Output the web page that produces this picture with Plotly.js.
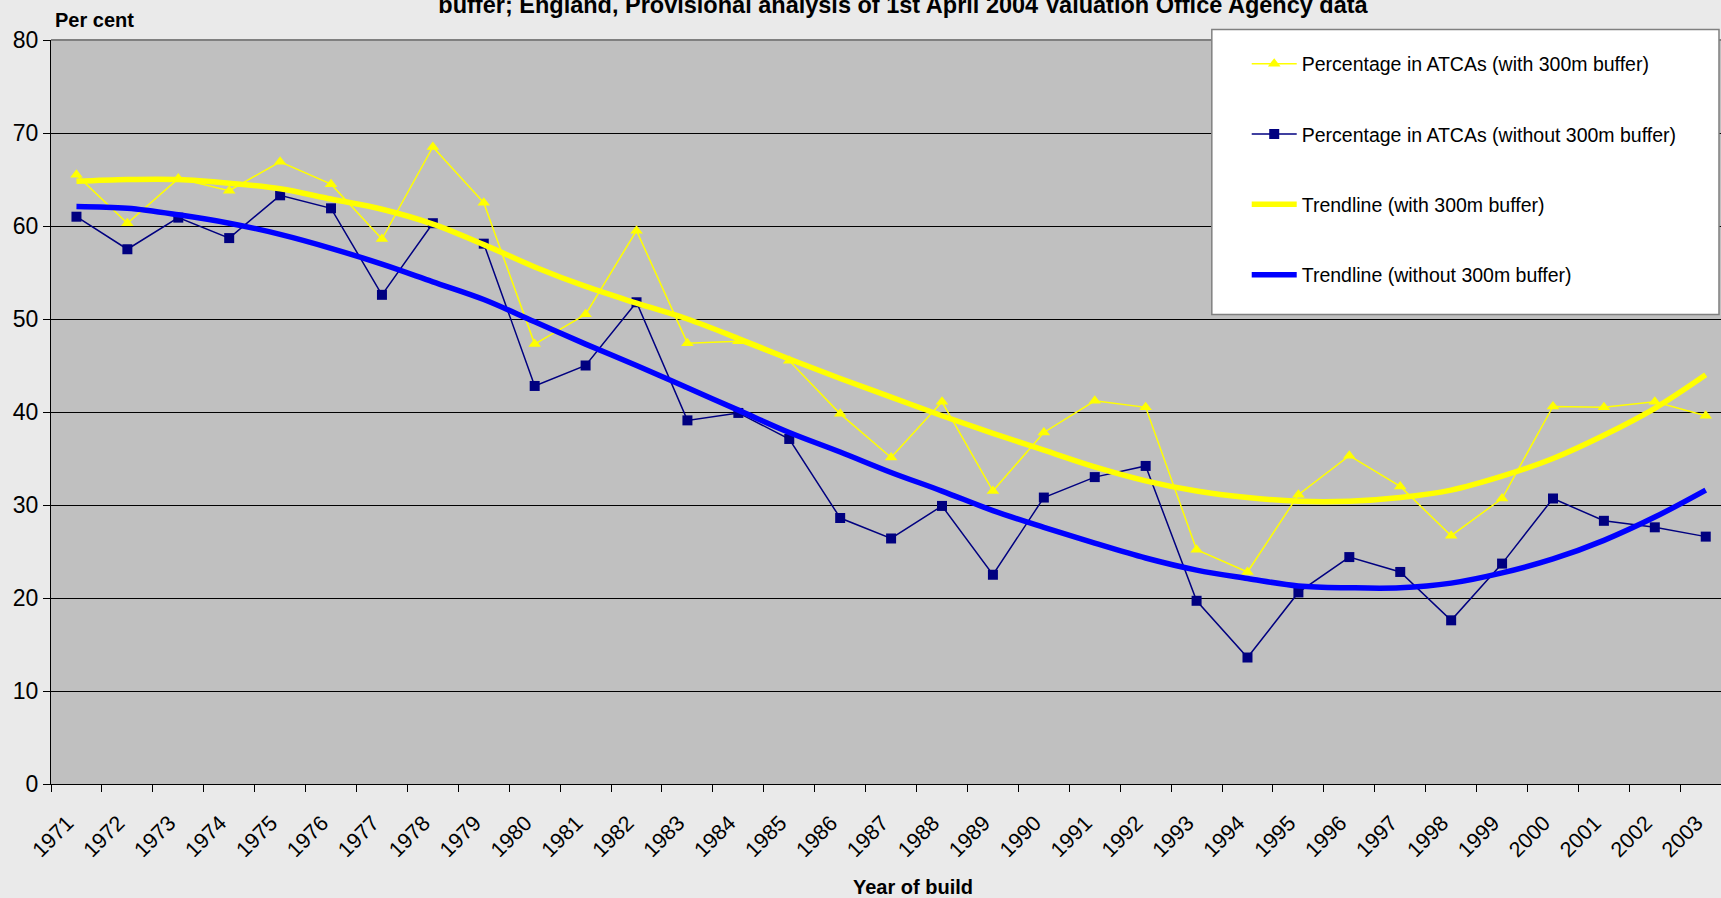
<!DOCTYPE html>
<html>
<head>
<meta charset="utf-8">
<script src="https://cdn.plot.ly/plotly-3.0.1.min.js"></script>
<style>
  html, body { margin: 0; padding: 0; background: #EAEAEA; }
  #chart { width: 1721px; height: 898px; }
</style>
</head>
<body>
<div id="chart"></div>
<script>
// ---- Data ----
const years = ['1971','1972','1973','1974','1975','1976','1977','1978','1979','1980',
               '1981','1982','1983','1984','1985','1986','1987','1988','1989','1990',
               '1991','1992','1993','1994','1995','1996','1997','1998','1999','2000',
               '2001','2002','2003'];

const pctWithBuffer = [65.5, 60.3, 65.1, 63.8, 66.9, 64.5, 58.6, 68.5, 62.5, 47.3,
                       50.5, 59.5, 47.4, 47.6, 45.5, 39.8, 35.1, 41.1, 31.5, 37.8,
                       41.2, 40.5, 25.2, 22.8, 31.1, 35.3, 32.0, 26.7, 30.7, 40.6,
                       40.5, 41.1, 39.6];

const pctWithoutBuffer = [61.0, 57.5, 60.9, 58.7, 63.3, 61.9, 52.6, 60.3, 58.1, 42.8,
                          45.0, 51.8, 39.1, 39.9, 37.1, 28.6, 26.4, 29.9, 22.5, 30.8,
                          33.0, 34.2, 19.7, 13.6, 20.6, 24.4, 22.8, 17.6, 23.7, 30.7,
                          28.3, 27.6, 26.6];

const trendWithBuffer = [64.8, 65.0, 65.0, 64.6, 64.0, 62.9, 61.8, 60.2, 58.0, 55.6,
                         53.5, 51.7, 50.0, 47.9, 45.7, 43.6, 41.6, 39.6, 37.7, 35.9,
                         34.1, 32.6, 31.5, 30.8, 30.4, 30.4, 30.8, 31.6, 33.1, 35.0,
                         37.5, 40.4, 44.0];

const trendWithoutBuffer = [62.1, 61.9, 61.2, 60.3, 59.1, 57.6, 55.9, 54.0, 52.1, 49.7,
                            47.3, 45.0, 42.6, 40.2, 37.8, 35.7, 33.5, 31.5, 29.4, 27.6,
                            25.9, 24.3, 23.0, 22.1, 21.3, 21.1, 21.1, 21.6, 22.7, 24.2,
                            26.2, 28.7, 31.6];

const seriesNames = ['Percentage in ATCAs (with 300m buffer)',
                     'Percentage in ATCAs (without 300m buffer)',
                     'Trendline (with 300m buffer)',
                     'Trendline (without 300m buffer)'];

const yTicks = [0, 10, 20, 30, 40, 50, 60, 70, 80];

const titleText = 'buffer; England, Provisional analysis of 1st April 2004 Valuation Office Agency data';
const xTitle = 'Year of build';
const yTitle = 'Per cent';

// ---- Chart ----
const FONT = 'Liberation Sans, Arial, Helvetica, sans-serif';

const traces = [
  {
    x: years, y: pctWithBuffer, name: seriesNames[0], legendgroup: 'g1',
    type: 'scatter', mode: 'lines+markers',
    line: { color: '#FFFF00', width: 1.5 },
    marker: { symbol: 'triangle-up', size: 11, color: '#FFFF00' }
  },
  {
    x: years, y: pctWithoutBuffer, name: seriesNames[1], legendgroup: 'g2',
    type: 'scatter', mode: 'lines+markers',
    line: { color: '#000080', width: 1.5 },
    marker: { symbol: 'square', size: 10, color: '#000080' }
  },
  {
    x: years, y: trendWithBuffer, name: seriesNames[2], legendgroup: 'g3',
    type: 'scatter', mode: 'lines',
    line: { color: '#FFFF00', width: 5.5, shape: 'spline' }
  },
  {
    x: years, y: trendWithoutBuffer, name: seriesNames[3], legendgroup: 'g4',
    type: 'scatter', mode: 'lines',
    line: { color: '#0000FF', width: 5.5, shape: 'spline' }
  }
];

const layout = {
  width: 1721, height: 898,
  margin: { l: 51, r: 0, t: 40, b: 114, pad: 0 },
  paper_bgcolor: '#EAEAEA',
  plot_bgcolor: '#C0C0C0',
  font: { family: FONT, color: '#000000' },
  showlegend: true,
  title: {
    text: '<b>' + titleText + '</b>',
    font: { family: FONT, size: 23.5, color: '#000000' },
    xref: 'container', yref: 'container',
    x: 0.5247, xanchor: 'center',
    y: 0.9945, yanchor: 'middle'
  },
  xaxis: {
    type: 'category',
    range: [-0.5, 32.3],
    tickson: 'boundaries',
    ticks: 'outside', ticklen: 7, tickcolor: '#000000', tickwidth: 1,
    showline: true, linecolor: '#000000', linewidth: 1,
    showgrid: false, zeroline: false,
    tickangle: -45,
    ticklabelstandoff: 17,
    ticklabelshift: -9,
    tickfont: { family: FONT, size: 21.5, color: '#000000' },
    fixedrange: true
  },
  yaxis: {
    range: [0, 80],
    tickvals: yTicks,
    ticks: 'outside', ticklen: 7, tickcolor: '#000000', tickwidth: 1,
    showline: true, linecolor: '#000000', linewidth: 1,
    showgrid: true, gridcolor: '#000000', gridwidth: 1,
    zeroline: false,
    tickfont: { family: FONT, size: 23, color: '#000000' },
    fixedrange: true
  },
  legend: {
    x: 0.716, xanchor: 'left',
    y: 0.994, yanchor: 'top',
    bgcolor: 'rgba(0,0,0,0)', borderwidth: 0,
    font: { family: FONT, size: 19.5, color: '#000000' },
    traceorder: 'grouped',
    tracegroupgap: 42,
    itemwidth: 45
  },
  shapes: [
    { type: 'line', xref: 'paper', yref: 'paper', x0: 0, x1: 1, y0: 1, y1: 1,
      line: { color: '#808080', width: 2 }, layer: 'above' },
    { type: 'rect', xref: 'paper', yref: 'paper', x0: 0.6951, x1: 0.9988, y0: 0.631, y1: 1.014,
      fillcolor: '#FFFFFF', line: { color: '#808080', width: 1.5 }, layer: 'above' }
  ],
  annotations: [
    { text: '<b>' + yTitle + '</b>', xref: 'paper', yref: 'paper',
      x: 0.001, xanchor: 'left', y: 1.0265, yanchor: 'middle',
      showarrow: false, font: { family: FONT, size: 20, color: '#000000' } },
    { text: '<b>' + xTitle + '</b>', xref: 'paper', yref: 'paper',
      x: 0.516, xanchor: 'center', y: -0.1384, yanchor: 'middle',
      showarrow: false, font: { family: FONT, size: 20, color: '#000000' } }
  ]
};

Plotly.newPlot('chart', traces, layout, { displayModeBar: false, staticPlot: true });
</script>
</body>
</html>
